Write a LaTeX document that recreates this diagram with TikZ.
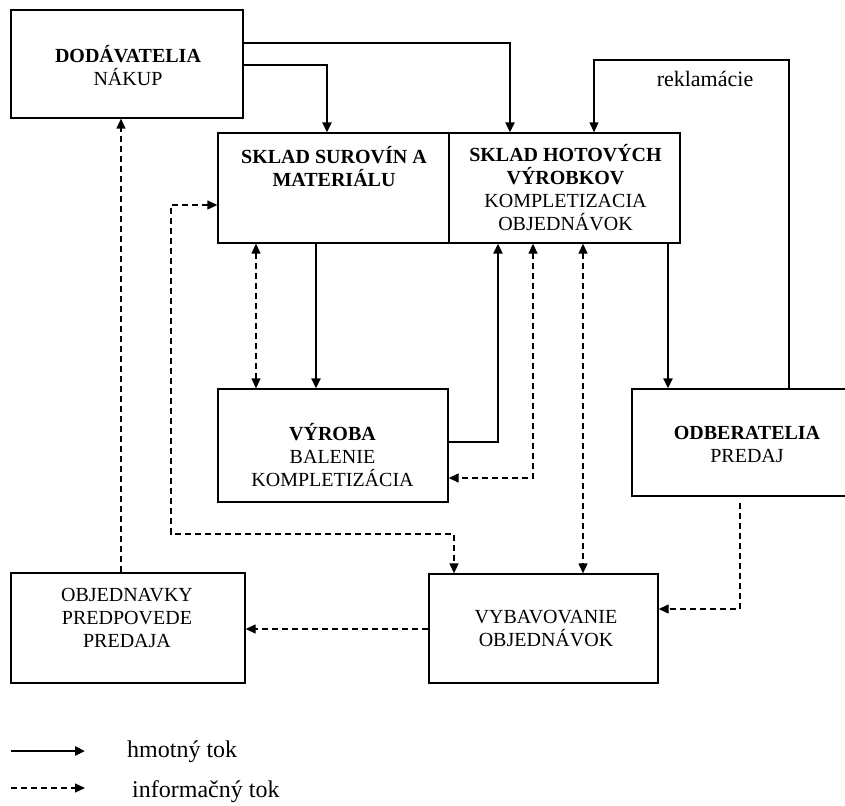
\documentclass[tikz,border=0pt]{standalone}
\usepackage{fontspec}
\setmainfont{Liberation Serif}
\usetikzlibrary{arrows.meta,calc}
\begin{document}
\begin{tikzpicture}[x=1pt,y=-1pt,
  box/.style={draw,line width=1.3pt,inner sep=0pt},
  txt/.style={align=center,inner sep=0pt,font=\fontsize{20}{23}\selectfont},
  tip/.style={-{Triangle[length=10pt,width=9pt]}},
  mat/.style={line width=2.7pt,tip},
  thinflow/.style={line width=1.3pt,tip},
  inf/.style={line width=1.3pt,dash pattern=on 6pt off 4pt,tip},
  infb/.style={line width=1.3pt,dash pattern=on 6pt off 4pt,{Triangle[length=10pt,width=9pt]}-{Triangle[length=10pt,width=9pt]}}
]
\useasboundingbox (0,0) rectangle (845,805);

% boxes
\node[box,minimum width=232pt,minimum height=108pt] (dod) at (127,64) {};
\node[box,minimum width=231pt,minimum height=110pt] (sur) at (333.5,188) {};
\node[box,minimum width=231pt,minimum height=110pt] (hot) at (564.5,188) {};
\node[box,minimum width=230pt,minimum height=113pt] (vyr) at (333,445.5) {};
\node[box,minimum width=215pt,minimum height=107pt] (odb) at (739.5,442.5) {};
\node[box,minimum width=234pt,minimum height=110pt] (obj) at (128,628) {};
\node[box,minimum width=229pt,minimum height=109pt] (vyb) at (543.5,628.5) {};

% texts
\node[txt] (dodT) at (128,66) {\textbf{DODÁVATELIA}\\NÁKUP};
\node[txt] (surT) at (334,167) {\textbf{SKLAD SUROVÍN A}\\\textbf{MATERIÁLU}};
\node[txt] (hotT) at (565.5,188) {\textbf{SKLAD HOTOVÝCH}\\\textbf{VÝROBKOV}\\KOMPLETIZACIA\\OBJEDNÁVOK};
\node[txt] (vyrT) at (332.5,455) {\textbf{VÝROBA}\\BALENIE\\KOMPLETIZÁCIA};
\node[txt] (odbT) at (747,444) {\textbf{ODBERATELIA}\\PREDAJ};
\node[txt] (objT) at (127,617.5) {OBJEDNAVKY\\PREDPOVEDE\\PREDAJA};
\node[txt] (vybT) at (546,628.5) {VYBAVOVANIE\\OBJEDNÁVOK};
\node[inner sep=0pt,anchor=base,font=\fontsize{22}{24}\selectfont] (rekT) at (705,87) {reklamácie};

% material flows
\draw[mat] (dod.east |- 0,43) -| (hot.north -| 510,0);
\draw[mat] (dod.east |- 0,65) -| (sur.north -| 327,0);
\draw[mat] (sur.south -| 316,0) -- (vyr.north -| 316,0);
\draw[mat] (vyr.east |- 0,442) -| (hot.south -| 498,0);
\draw[mat] (hot.south -| 668,0) -- (odb.north -| 668,0);
\draw[thinflow] (odb.north -| 789,0) |- (594,60) -- (hot.north -| 594,0);

% information flows
\draw[inf] (obj.north -| 121,0) -- (dod.south -| 121,0);
\draw[infb] (sur.west |- 0,205) -| (171,534) -| (vyb.north -| 454,0);
\draw[infb] (sur.south -| 256,0) -- (vyr.north -| 256,0);
\draw[infb] (hot.south -| 533,0) |- (vyr.east |- 0,478);
\draw[infb] (hot.south -| 583,0) -- (vyb.north -| 583,0);
\draw[inf] ($(odb.south -| 740,0)+(0,6)$) |- (vyb.east |- 0,609);
\draw[inf] (vyb.west |- 0,629) -- (obj.east |- 0,629);

% legend
\coordinate (l1a) at (11,751);
\coordinate (l1b) at (85,751);
\coordinate (l2a) at (11,788);
\coordinate (l2b) at (85,788);
\draw[mat] (l1a) -- (l1b);
\draw[inf] (l2a) -- (l2b);
\node[inner sep=0pt,anchor=base west,font=\fontsize{24}{26}\selectfont] (leg1) at (127,757) {hmotný tok};
\node[inner sep=0pt,anchor=base west,font=\fontsize{24}{26}\selectfont] (leg2) at (132,797) {informačný tok};
\end{tikzpicture}
\end{document}
